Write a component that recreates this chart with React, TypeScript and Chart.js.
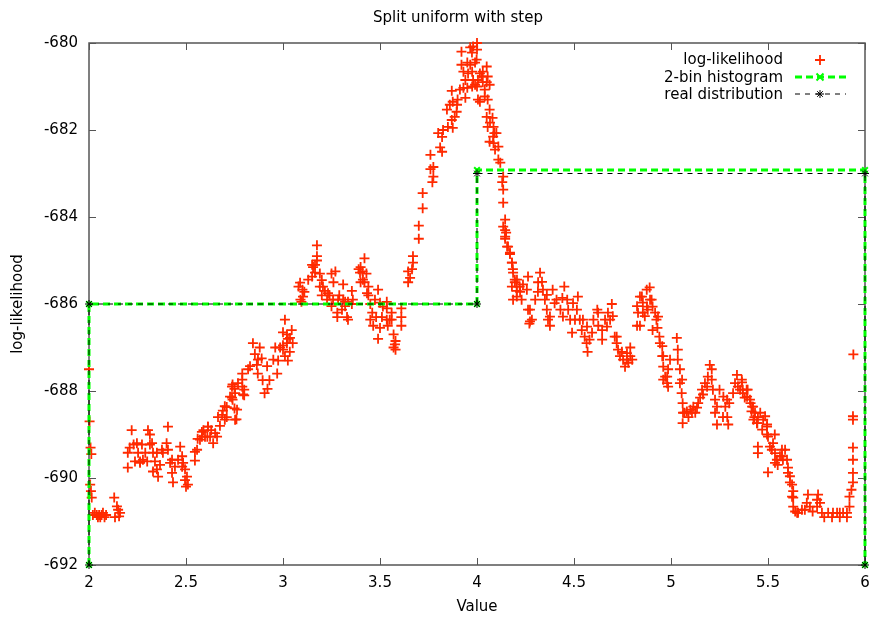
import React, { useEffect, useRef } from 'react';
import { Chart, registerables } from 'chart.js';

Chart.register(...registerables);

const TITLE = 'Split uniform with step';
const X_LABEL = 'Value';
const Y_LABEL = 'log-likelihood';
const SERIES_NAMES = ['log-likelihood', '2-bin histogram', 'real distribution'];
const X_MIN = 2, X_MAX = 6, X_STEP = 0.5;
const Y_MIN = -692, Y_MAX = -680, Y_STEP = 2;

const histX = [2, 2, 4, 4, 6, 6];
const histY = [-692, -686, -686, -682.92, -682.92, -692];
const realX = [2, 2, 4, 4, 6, 6];
const realY = [-692, -686, -686, -683, -683, -692];

// log-likelihood samples, [x, y]
const llStart = [
  [2.0, -687.5], [2.003, -688.7], [2.008, -689.3], [2.012, -689.45], [2.006, -690.15], [2.01, -690.3],
  [2.014, -690.45], [2.02, -690.85], [2.03, -690.8], [2.04, -690.85], [2.046, -690.9], [2.052, -690.85],
  [2.058, -690.9], [2.065, -690.85], [2.072, -690.8], [2.08, -690.9], [2.088, -690.85], [2.13, -690.45],
  [2.134, -690.9], [2.144, -690.65], [2.15, -690.73], [2.16, -690.8], [2.155, -690.88],
];
const llLow = [
  [2.2, -689.42], [2.2, -689.76], [2.22, -688.9], [2.23, -689.23], [2.237, -689.62], [2.253, -689.42],
  [2.263, -689.65], [2.273, -689.23], [2.278, -689.58], [2.29, -689.42], [2.304, -688.9], [2.314, -689.0],
  [2.325, -689.2], [2.33, -689.42], [2.34, -689.62], [2.35, -689.8], [2.356, -689.97], [2.366, -689.7],
  [2.376, -689.35], [2.4, -689.2], [2.407, -688.82], [2.407, -689.35], [2.418, -689.65], [2.428, -689.88],
  [2.433, -690.1], [2.443, -689.74], [2.47, -689.28], [2.48, -689.5], [2.485, -689.65], [2.495, -689.8],
  [2.505, -689.97], [2.51, -690.15], [2.495, -690.05], [2.5, -690.2],
  [2.21, -689.3], [2.247, -689.2], [2.263, -689.62], [2.3, -689.62], [2.314, -689.23], [2.35, -689.42],
  [2.33, -689.85], [2.381, -689.42], [2.428, -689.58], [2.459, -689.58], [2.48, -689.74],
];
const llRise = [
  [2.546, -689.6], [2.546, -689.4], [2.557, -689.35], [2.56, -689.1], [2.572, -689.12], [2.582, -688.94],
  [2.59, -688.9], [2.598, -689.05], [2.61, -689.05], [2.613, -688.82], [2.624, -689.05], [2.63, -688.9],
  [2.64, -689.2], [2.66, -689.05], [2.665, -688.6], [2.675, -688.8], [2.686, -688.55], [2.69, -688.45],
  [2.7, -688.66], [2.7, -688.35], [2.71, -688.6], [2.71, -688.37], [2.737, -688.15], [2.737, -687.9],
  [2.74, -688.2], [2.74, -687.85], [2.75, -687.95], [2.75, -688.4], [2.753, -688.05], [2.763, -688.43],
  [2.753, -688.66], [2.76, -688.65], [2.79, -687.74], [2.79, -687.6], [2.79, -687.9], [2.794, -688.08],
  [2.8, -687.97], [2.8, -688.1], [2.82, -687.5], [2.845, -686.9], [2.855, -687.15], [2.865, -687.4],
  [2.87, -687.6], [2.88, -687.0], [2.89, -687.25], [2.895, -687.75], [2.905, -688.05], [2.92, -687.95],
  [2.93, -687.75], [2.96, -687.0], [2.97, -687.6], [2.975, -687.3], [2.985, -687.0], [3.0, -686.65],
  [3.01, -686.36], [3.02, -686.9], [3.02, -686.7], [3.025, -687.3], [3.025, -686.8], [3.035, -687.1],
  [3.045, -686.6], [3.05, -686.9], [3.0, -686.95], [3.01, -687.2],
  [2.582, -689.05], [2.613, -688.82], [2.65, -688.97], [2.727, -688.13], [2.768, -687.82], [2.83, -687.43],
  [2.871, -687.28], [2.918, -687.43], [2.95, -687.28], [3.0, -687.05], [3.036, -686.78],
];
const llMid = [
  [3.08, -685.6], [3.09, -685.9], [3.095, -685.95], [3.1, -685.67], [3.11, -685.72], [3.13, -685.44],
  [3.15, -685.1], [3.155, -685.15], [3.175, -685.0], [3.175, -684.65], [3.175, -684.9], [3.165, -685.1],
  [3.19, -685.3], [3.2, -685.45], [3.19, -685.6], [3.2, -685.8], [3.216, -685.7], [3.227, -685.9],
  [3.24, -685.8], [3.25, -685.3], [3.27, -685.25], [3.26, -685.5], [3.25, -686.05], [3.28, -686.2],
  [3.28, -686.3], [3.29, -685.8], [3.31, -685.55], [3.31, -685.9], [3.32, -686.05], [3.33, -686.3],
  [3.335, -686.36], [3.355, -685.7], [3.36, -685.9], [3.355, -686.0], [3.39, -685.2], [3.4, -685.15],
  [3.41, -685.25], [3.42, -684.95], [3.43, -685.3], [3.42, -685.5], [3.4, -685.5], [3.44, -685.6],
  [3.44, -685.8], [3.45, -686.0], [3.46, -686.2], [3.45, -686.36], [3.465, -686.5], [3.49, -685.67],
  [3.5, -685.97], [3.48, -686.3], [3.5, -686.55], [3.49, -686.8], [3.51, -686.3], [3.535, -685.95],
  [3.535, -686.1], [3.535, -686.36], [3.54, -686.5], [3.56, -686.2], [3.56, -686.36], [3.57, -686.7],
  [3.58, -686.85], [3.57, -687.0], [3.58, -687.05], [3.61, -686.1], [3.61, -686.3], [3.61, -686.5],
  [3.088, -685.51], [3.103, -685.83], [3.15, -685.37], [3.165, -685.28], [3.206, -685.6], [3.232, -685.75],
  [3.258, -685.9], [3.284, -685.9], [3.32, -685.95], [3.304, -686.13], [3.335, -685.95], [3.397, -685.28],
  [3.412, -685.44], [3.433, -685.75], [3.474, -685.9], [3.515, -686.06], [3.55, -686.36], [3.577, -686.93],
];
const llPeak = [
  [3.645, -685.5], [3.655, -685.4], [3.665, -685.2], [3.645, -685.25], [3.67, -685.05], [3.67, -684.9],
  [3.7, -684.2], [3.7, -684.5], [3.72, -683.8], [3.72, -683.45], [3.77, -683.2], [3.775, -683.07],
  [3.76, -682.9], [3.775, -682.85], [3.76, -682.57], [3.82, -682.5], [3.81, -682.4], [3.82, -682.16],
  [3.8, -682.07], [3.825, -682.0], [3.85, -681.93], [3.875, -681.95], [3.87, -681.77], [3.885, -681.7],
  [3.895, -681.58], [3.845, -681.53], [3.86, -681.42], [3.875, -681.35], [3.9, -681.3], [3.87, -681.1],
  [3.94, -681.26], [3.93, -681.03], [3.95, -681.03], [3.94, -680.85], [3.93, -680.66], [3.92, -680.5],
  [3.95, -680.45], [3.965, -680.5], [3.975, -680.66], [3.99, -680.45], [3.998, -680.38], [3.92, -680.2],
  [3.965, -680.1], [3.98, -680.08], [4.0, -680.15], [4.0, -680.0], [3.98, -680.85], [3.99, -680.96],
  [3.975, -681.0], [4.005, -680.85], [4.015, -680.7], [4.03, -680.66], [4.05, -680.54], [4.03, -680.9],
  [4.05, -680.9], [4.04, -681.07], [4.055, -680.77], [4.005, -681.3], [4.015, -681.35], [4.065, -680.96],
  [4.055, -681.3], [4.065, -681.53], [4.05, -681.7], [4.08, -681.72], [4.085, -681.93], [4.055, -681.93],
  [4.09, -682.07], [4.1, -682.07], [4.065, -682.27], [4.085, -682.3], [4.11, -682.38], [4.11, -682.68],
  [4.12, -682.75], [4.135, -683.07], [4.13, -683.2], [4.135, -683.37], [4.135, -683.67], [4.145, -684.06],
  [4.145, -684.3], [4.15, -684.36], [4.145, -684.5], [4.16, -684.68], [4.17, -684.82], [4.18, -685.05],
  [4.185, -685.2], [4.195, -685.44], [4.205, -685.6], [4.205, -685.83],
  [4.025, -680.77], [4.0, -681.0], [4.04, -681.23], [4.067, -681.83], [4.083, -682.15], [4.093, -682.45],
  [3.897, -681.42], [3.912, -681.07], [3.954, -680.7], [3.974, -680.22],
];
const llFall = [
  [4.135, -684.22], [4.145, -684.45], [4.155, -684.68], [4.17, -684.85], [4.18, -685.05], [4.186, -685.28],
  [4.195, -685.5], [4.205, -685.7], [4.186, -685.9], [4.22, -685.6], [4.23, -685.9], [4.257, -685.67],
  [4.263, -685.37], [4.273, -686.13], [4.273, -686.4], [4.27, -686.45], [4.3, -685.9], [4.315, -685.5],
  [4.325, -685.28], [4.34, -685.67], [4.35, -685.9], [4.36, -686.13], [4.366, -686.36], [4.376, -686.5],
  [4.39, -685.67], [4.41, -685.9], [4.43, -686.13], [4.45, -685.6], [4.465, -685.9], [4.47, -686.13],
  [4.48, -686.36], [4.49, -686.66], [4.52, -685.83], [4.515, -686.13], [4.53, -686.36], [4.54, -686.6],
  [4.555, -686.75], [4.565, -686.9], [4.57, -687.1], [4.58, -686.82], [4.6, -686.36], [4.62, -686.13],
  [4.625, -686.5], [4.645, -686.6], [4.645, -686.82], [4.66, -686.36], [4.675, -686.2], [4.695, -686.0],
  [4.7, -686.28], [4.71, -686.75], [4.72, -686.9], [4.727, -687.05], [4.737, -687.2], [4.753, -687.28],
  [4.763, -687.44], [4.773, -687.13], [4.79, -687.2], [4.78, -687.35], [4.79, -687.0], [4.825, -686.05],
  [4.83, -686.2], [4.84, -685.83], [4.855, -685.97], [4.875, -685.67], [4.88, -686.13], [4.825, -686.5],
  [4.206, -685.44], [4.222, -685.72], [4.237, -685.55], [4.18, -685.6], [4.263, -686.13], [4.283, -686.36],
  [4.314, -685.72], [4.335, -685.49], [4.36, -685.79], [4.376, -686.29], [4.4, -685.98], [4.44, -685.86],
  [4.443, -686.29], [4.495, -685.98], [4.505, -686.36], [4.546, -686.36], [4.567, -686.52], [4.593, -686.66],
  [4.624, -686.2], [4.67, -686.52], [4.686, -686.36], [4.72, -686.75], [4.747, -687.1], [4.773, -687.28],
  [4.8, -687.28],
];
const llHump = [
  [4.84, -686.5], [4.85, -685.83], [4.865, -686.28], [4.89, -685.62], [4.9, -685.9], [4.905, -686.06],
  [4.905, -686.6], [4.925, -686.36], [4.93, -686.55], [4.94, -686.75], [4.955, -686.97], [4.955, -687.2],
  [4.96, -687.44], [4.97, -687.67], [4.98, -687.82], [4.985, -687.5], [4.995, -687.28], [5.03, -686.78],
  [5.035, -687.05], [5.035, -687.28], [5.046, -687.5], [5.046, -687.82], [5.055, -688.05], [5.06, -688.28],
  [5.07, -688.5], [5.06, -688.74], [5.09, -688.6], [5.1, -688.43], [5.115, -688.36], [5.125, -688.5],
  [5.14, -688.28], [5.15, -688.15], [5.16, -687.97], [5.175, -687.82], [5.19, -687.67], [5.2, -687.4],
  [5.21, -687.74], [5.216, -687.97], [5.227, -688.2], [5.227, -688.5], [5.237, -688.77], [5.25, -687.97],
  [5.27, -688.13], [5.28, -688.36], [5.29, -688.6], [5.295, -688.77], [5.3, -688.28], [5.32, -688.05],
  [5.34, -687.63], [5.345, -687.9], [5.365, -687.74], [5.37, -687.97], [5.38, -688.15], [5.395, -687.97],
  [5.41, -688.28], [5.415, -688.47], [5.43, -688.6], [5.445, -688.74], [5.46, -688.5], [5.475, -688.66],
  [5.495, -688.82], [5.535, -689.0], [5.495, -689.0],
  [4.855, -686.2], [4.876, -686.06], [4.892, -685.9], [4.918, -686.2], [4.933, -686.29], [4.943, -686.9],
  [4.96, -687.2], [4.98, -687.67], [4.985, -687.9], [4.96, -687.74], [5.057, -687.74], [5.062, -688.5],
  [5.082, -688.47], [5.108, -688.5], [5.134, -688.38], [5.165, -688.08], [5.186, -687.9], [5.21, -687.5],
  [5.237, -688.36], [5.268, -688.6], [5.289, -688.2], [5.33, -687.82], [5.356, -687.97], [5.392, -688.13],
  [5.423, -688.36], [5.448, -688.6],
];
const llEnd = [
  [5.366, -687.8], [5.37, -688.05], [5.39, -687.97], [5.407, -688.2], [5.418, -688.36], [5.433, -688.5],
  [5.443, -688.74], [5.425, -688.66], [5.448, -689.28], [5.448, -689.43], [5.47, -688.89], [5.485, -688.58],
  [5.495, -688.77], [5.5, -689.05], [5.51, -689.28], [5.5, -689.87], [5.526, -689.2], [5.536, -689.43],
  [5.546, -689.58], [5.55, -689.7], [5.562, -689.5], [5.572, -689.35], [5.588, -689.35], [5.598, -689.58],
  [5.603, -689.76], [5.613, -689.96], [5.624, -690.15], [5.63, -690.3], [5.63, -690.45], [5.64, -690.77],
  [5.655, -690.8], [5.675, -690.73], [5.69, -690.73], [5.706, -690.38], [5.716, -690.66], [5.73, -690.77],
  [5.758, -690.38], [5.768, -690.57], [5.778, -690.8], [5.79, -690.9], [5.81, -690.8], [5.83, -690.9],
  [5.856, -690.8], [5.87, -690.9], [5.887, -690.8], [5.907, -690.9], [5.92, -690.66], [5.92, -690.43],
  [5.93, -690.27], [5.938, -690.1], [5.938, -689.88], [5.938, -689.58], [5.938, -689.3], [5.938, -688.66],
  [5.938, -688.58], [5.94, -687.16],
  [5.52, -689.35], [5.536, -689.65], [5.572, -689.5], [5.577, -689.58], [5.603, -689.88], [5.613, -690.1],
  [5.624, -690.43], [5.63, -690.66], [5.65, -690.8], [5.7, -690.57], [5.753, -690.5], [5.753, -690.66],
  [5.835, -690.8], [5.87, -690.8], [5.907, -690.8],
];

const FONT = "'DejaVu Sans', 'Liberation Sans', sans-serif";
const RED = '#ff2a00';
const GREEN = '#00ff00';

const decoPlugin = {
  id: 'deco',
  beforeDatasetsDraw(chart: any) {
    const { ctx, chartArea: a, scales } = chart;
    ctx.save();
    ctx.strokeStyle = '#555';
    ctx.lineWidth = 1.5;
    ctx.strokeRect(a.left, a.top, a.right - a.left, a.bottom - a.top);
    ctx.lineWidth = 1;
    ctx.beginPath();
    for (let v = X_MIN; v <= X_MAX + 1e-9; v += X_STEP) {
      const px = Math.round(scales.x.getPixelForValue(v)) + 0.5;
      ctx.moveTo(px, a.bottom); ctx.lineTo(px, a.bottom - 7);
      ctx.moveTo(px, a.top); ctx.lineTo(px, a.top + 7);
    }
    for (let v = Y_MIN; v <= Y_MAX + 1e-9; v += Y_STEP) {
      const py = Math.round(scales.y.getPixelForValue(v)) + 0.5;
      ctx.moveTo(a.left, py); ctx.lineTo(a.left + 7, py);
      ctx.moveTo(a.right, py); ctx.lineTo(a.right - 7, py);
    }
    ctx.stroke();
    ctx.restore();
  },
  afterDraw(chart: any) {
    const { ctx } = chart;
    ctx.save();
    ctx.fillStyle = '#000';
    ctx.font = `15px ${FONT}`;
    ctx.textAlign = 'center';
    ctx.textBaseline = 'middle';
    ctx.fillText(TITLE, 458, 18);

    // legend
    const textRight = 783;
    const rows = [60, 78, 95];
    const sampleRows = [60, 77, 94];
    ctx.textAlign = 'right';
    SERIES_NAMES.forEach((n, i) => ctx.fillText(n, textRight, rows[i]));
    const x0 = 795, x1 = 846, xm = 820;
    ctx.strokeStyle = RED; ctx.lineWidth = 1.8;
    ctx.beginPath();
    ctx.moveTo(xm - 5, sampleRows[0]); ctx.lineTo(xm + 5, sampleRows[0]);
    ctx.moveTo(xm, sampleRows[0] - 5); ctx.lineTo(xm, sampleRows[0] + 5);
    ctx.stroke();
    ctx.strokeStyle = GREEN; ctx.lineWidth = 3; ctx.setLineDash([7, 4]);
    ctx.beginPath(); ctx.moveTo(x0, sampleRows[1]); ctx.lineTo(x1, sampleRows[1]); ctx.stroke();
    ctx.setLineDash([]); ctx.lineWidth = 2;
    ctx.beginPath();
    ctx.moveTo(xm - 3.5, sampleRows[1] - 3.5); ctx.lineTo(xm + 3.5, sampleRows[1] + 3.5);
    ctx.moveTo(xm - 3.5, sampleRows[1] + 3.5); ctx.lineTo(xm + 3.5, sampleRows[1] - 3.5);
    ctx.stroke();
    ctx.strokeStyle = '#000'; ctx.lineWidth = 1; ctx.setLineDash([5, 5]);
    ctx.beginPath(); ctx.moveTo(x0, sampleRows[2]); ctx.lineTo(x1, sampleRows[2]); ctx.stroke();
    ctx.setLineDash([]);
    ctx.beginPath();
    const r = 4;
    ctx.moveTo(xm - r, sampleRows[2]); ctx.lineTo(xm + r, sampleRows[2]);
    ctx.moveTo(xm, sampleRows[2] - r); ctx.lineTo(xm, sampleRows[2] + r);
    ctx.moveTo(xm - r * 0.7, sampleRows[2] - r * 0.7); ctx.lineTo(xm + r * 0.7, sampleRows[2] + r * 0.7);
    ctx.moveTo(xm - r * 0.7, sampleRows[2] + r * 0.7); ctx.lineTo(xm + r * 0.7, sampleRows[2] - r * 0.7);
    ctx.stroke();
    ctx.restore();
  },
};

export default function App() {
  const ref = useRef<HTMLCanvasElement | null>(null);
  useEffect(() => {
    if (!ref.current) return;
    const ll = [...llStart, ...llLow, ...llRise, ...llMid, ...llPeak, ...llFall, ...llHump, ...llEnd]
      .map(([x, y]) => ({ x, y }));
    const chart = new Chart(ref.current, {
      type: 'scatter',
      data: {
        datasets: [
          {
            label: SERIES_NAMES[2],
            data: realX.map((x, i) => ({ x, y: realY[i] })),
            showLine: true,
            borderColor: '#000',
            borderWidth: 1,
            borderDash: [5, 5],
            pointStyle: 'star',
            pointRadius: 4,
            pointBorderColor: '#000',
            pointBackgroundColor: '#000',
            pointBorderWidth: 1,
            order: 0,
            clip: false,
          } as any,
          {
            label: SERIES_NAMES[1],
            data: histX.map((x, i) => ({ x, y: histY[i] })),
            showLine: true,
            borderColor: GREEN,
            borderWidth: 3,
            borderDash: [7, 4],
            pointStyle: 'crossRot',
            pointRadius: 4,
            pointBorderColor: GREEN,
            pointBackgroundColor: GREEN,
            pointBorderWidth: 2,
            order: 1,
            clip: false,
          } as any,
          {
            label: SERIES_NAMES[0],
            data: ll,
            showLine: false,
            pointStyle: 'cross',
            pointRadius: 5,
            pointBorderColor: RED,
            pointBackgroundColor: RED,
            pointBorderWidth: 1.8,
            order: 2,
            clip: false,
          } as any,
        ],
      },
      options: {
        animation: false,
        responsive: false,
        maintainAspectRatio: false,
        devicePixelRatio: 1,
        layout: { padding: { top: 43, right: 9, bottom: 0, left: 0 } },
        plugins: { legend: { display: false }, tooltip: { enabled: false }, title: { display: false } },
        scales: {
          x: {
            type: 'linear',
            min: X_MIN,
            max: X_MAX,
            grid: { display: false, drawTicks: false },
            border: { display: false },
            ticks: {
              stepSize: X_STEP, padding: 9, color: '#000', font: { family: FONT, size: 15 },
              callback: (v: any) => String(Math.round(Number(v) * 10) / 10),
            },
            title: { display: true, text: X_LABEL, color: '#000', font: { family: FONT, size: 15 }, padding: { top: 0, bottom: 7 } },
            afterFit: (s: any) => { s.height = 58; s.paddingLeft = 0; s.paddingRight = 0; },
          },
          y: {
            type: 'linear',
            min: Y_MIN,
            max: Y_MAX,
            grid: { display: false, drawTicks: false },
            border: { display: false },
            ticks: {
              stepSize: Y_STEP, padding: 11, color: '#000', font: { family: FONT, size: 15 },
              callback: (v: any) => String(Math.round(Number(v))),
            },
            title: { display: true, text: Y_LABEL, color: '#000', font: { family: FONT, size: 15 }, padding: { top: 9, bottom: 0 } },
            afterFit: (s: any) => { s.width = 89; s.paddingTop = 0; s.paddingBottom = 0; },
          },
        },
      },
      plugins: [decoPlugin],
    });
    return () => chart.destroy();
  }, []);
  return (
    <div style={{ position: 'absolute', left: 0, top: 0, width: 874, height: 623, background: '#fff' }}>
      <canvas ref={ref} width={874} height={623} />
    </div>
  );
}
